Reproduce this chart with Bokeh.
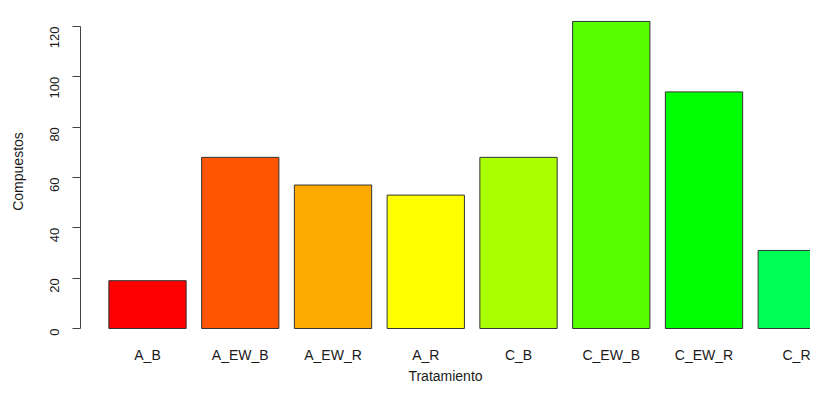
import math
from bokeh.plotting import figure
from bokeh.models import Range1d, FixedTicker, ColumnDataSource
from bokeh.embed import file_html
from bokeh.resources import INLINE

categories = ["A_B", "A_EW_B", "A_EW_R", "A_R", "C_B", "C_EW_B", "C_EW_R", "C_R"]
values = [19, 68, 57, 53, 68, 122, 94, 31]
colors = ["#FF0000", "#FF5500", "#FFAA00", "#FFFF00", "#AAFF00", "#55FF00", "#00FF00", "#00FF55"]
y_ticks = [0, 20, 40, 60, 80, 100, 120]

idx = list(range(len(categories)))
src = ColumnDataSource(dict(x=idx, top=values, color=colors, cat=categories))

FONT = "Liberation Sans"
TXT = "#1a1a1a"

p = figure(width=810, height=386, output_backend="svg", toolbar_location=None,
           x_range=Range1d(-0.7224, 7.148), y_range=Range1d(-3.179, 127.94),
           min_border_left=80, min_border_right=0, min_border_top=6, min_border_bottom=50)
p.outline_line_color = None
p.xgrid.visible = False
p.ygrid.visible = False
p.background_fill_color = "white"
p.border_fill_color = "white"

p.vbar(x="x", top="top", bottom=0, width=1 / 1.2, fill_color="color",
       line_color="#333333", line_width=1, source=src)

# x axis
xa = p.xaxis[0]
xa.ticker = FixedTicker(ticks=idx)
xa.major_label_overrides = {i: c for i, c in zip(idx, categories)}
xa.axis_line_color = None
xa.major_tick_line_color = None
xa.minor_tick_line_color = None
xa.major_tick_out = 0
xa.major_tick_in = 0
xa.major_label_standoff = 10
xa.major_label_text_font = FONT
xa.major_label_text_font_size = "14px"
xa.major_label_text_color = TXT
xa.axis_label = "Tratamiento"
xa.axis_label_text_font = FONT
xa.axis_label_text_font_size = "14px"
xa.axis_label_text_font_style = "normal"
xa.axis_label_text_color = TXT
xa.axis_label_standoff = 2

# y axis
ya = p.yaxis[0]
ya.ticker = FixedTicker(ticks=y_ticks)
ya.bounds = (0, 120)
ya.axis_line_color = "#444444"
ya.major_tick_line_color = "#444444"
ya.major_tick_out = 8
ya.major_tick_in = 0
ya.minor_tick_line_color = None
ya.major_label_orientation = math.pi / 2
ya.major_label_standoff = 18
ya.major_label_text_font = FONT
ya.major_label_text_font_size = "13px"
ya.major_label_text_color = TXT
ya.axis_label = "Compuestos"
ya.axis_label_text_font = FONT
ya.axis_label_text_font_size = "14px"
ya.axis_label_text_font_style = "normal"
ya.axis_label_text_color = TXT
ya.axis_label_standoff = 17

open("out.html", "w").write(file_html(p, INLINE))
